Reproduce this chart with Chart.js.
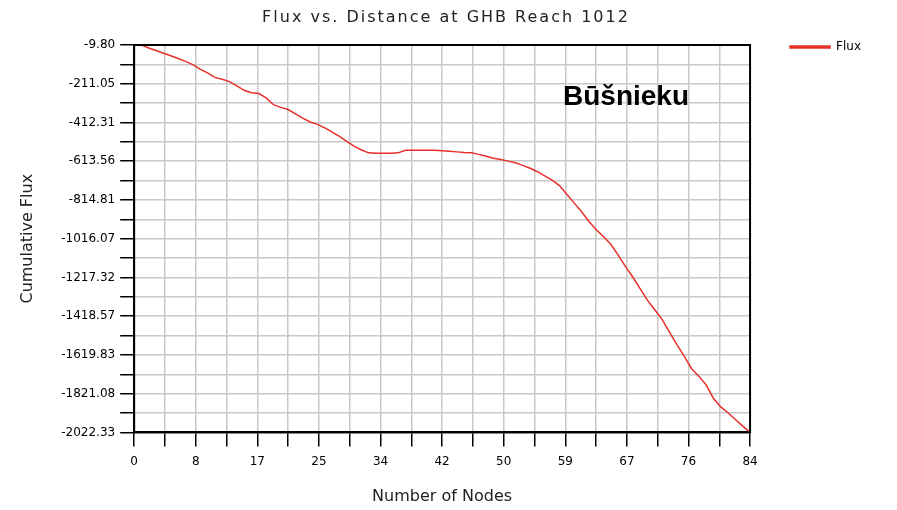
<!DOCTYPE html>
<html lang="en">
<head>
    <meta charset="UTF-8">
    <title>Flux vs. Distance at GHB Reach 1012</title>
    <style>
        body {
            margin: 0;
            background-color: #fff;
        }
        #wrap {
            width: 897px;
            height: 510px;
        }
    </style>
    <script src="https://cdn.jsdelivr.net/npm/chart.js"></script>
</head>
<body>
    <div id="wrap">
        <canvas id="flux-chart" width="897" height="510"></canvas>
    </div>

    <script>
        // data
        const nodes = [
            1, 2, 3, 4, 5, 6, 7, 8, 9, 10, 11, 12, 13, 14, 15, 16, 17, 18, 19, 20, 21,
            22, 23, 24, 25, 26, 27, 28, 29, 30, 31, 32, 33, 34, 35, 36, 37, 38, 39, 40, 41, 42,
            43, 44, 45, 46, 47, 48, 49, 50, 51, 52, 53, 54, 55, 56, 57, 58, 59, 60, 61, 62, 63,
            64, 65, 66, 67, 68, 69, 70, 71, 72, 73, 74, 75, 76, 77, 78, 79, 80, 81, 82, 83, 84
        ];
        const flux = [
            -9.8, -25, -38, -53, -66, -80, -95, -112, -135, -155, -178, -188, -200, -222, -245, -258, -262, -285, -320, -334, -345,
            -368, -390, -410, -422, -440, -462, -485, -510, -535, -555, -570, -572, -572, -572, -570, -557, -556, -556, -556, -557, -559,
            -562, -565, -568, -570, -578, -588, -598, -605, -613, -622, -635, -650, -668, -690, -712, -740, -785, -830, -875, -925, -968,
            -1005, -1045, -1100, -1160, -1215, -1275, -1335, -1385, -1435, -1500, -1565, -1625, -1690, -1730, -1775, -1845, -1890, -1920, -1955, -1990, -2022.33
        ];
        const xTickLabels = ['0', '8', '17', '25', '34', '42', '50', '59', '67', '76', '84'];
        const yTickLabels = ['-9.80', '-211.05', '-412.31', '-613.56', '-814.81', '-1016.07',
            '-1217.32', '-1418.57', '-1619.83', '-1821.08', '-2022.33'];

        const xMax = 84;
        const yTop = parseFloat(yTickLabels[0]);
        const yBottom = parseFloat(yTickLabels[yTickLabels.length - 1]);
        const tickFont = { family: "'DejaVu Sans'", size: 12 };

        // box around the plot, spaced-out title and the place name
        const frame = {
            id: 'frame',
            afterLayout(chart) {
                // legend sits level with the top of the plot
                chart.legend.top = chart.chartArea.top - 44;
            },
            afterDraw(chart) {
                const a = chart.chartArea;
                const ctx = chart.ctx;
                ctx.save();
                ctx.strokeStyle = '#000';
                ctx.lineWidth = 2;
                ctx.strokeRect(a.left, a.top, a.right - a.left, a.bottom - a.top);

                ctx.fillStyle = '#222';
                ctx.font = "16px 'DejaVu Sans'";
                ctx.letterSpacing = '2px';
                ctx.textAlign = 'center';
                ctx.textBaseline = 'middle';
                ctx.fillText('Flux vs. Distance at GHB Reach 1012', 446, 18);

                ctx.letterSpacing = '0px';
                ctx.textAlign = 'left';
                ctx.fillStyle = '#000';
                ctx.font = "bold 28px 'Liberation Sans', Arial";
                ctx.fillText('Būšnieku', 563, 97);
                ctx.restore();
            }
        };

        new Chart(document.getElementById('flux-chart'), {
            type: 'line',
            data: {
                labels: nodes,
                datasets: [{
                    label: 'Flux',
                    data: nodes.map((n, i) => ({ x: n, y: flux[i] })),
                    borderColor: '#e8302a',
                    backgroundColor: '#e8302a',
                    borderWidth: 1.5,
                    pointRadius: 0,
                    tension: 0
                }]
            },
            options: {
                responsive: false,
                animation: false,
                layout: { padding: { top: 45, left: 18, bottom: 0, right: 26 } },
                plugins: {
                    title: { display: false },
                    legend: {
                        position: 'right',
                        align: 'start',
                        labels: {
                            boxWidth: 40,
                            boxHeight: 2,
                            padding: 40,
                            color: '#000',
                            font: { family: "'DejaVu Sans'", size: 12 }
                        }
                    },
                    tooltip: { enabled: false }
                },
                scales: {
                    x: {
                        type: 'linear',
                        min: 0,
                        max: xMax,
                        afterBuildTicks(axis) {
                            const t = [];
                            for (let i = 0; i <= 20; i++) t.push({ value: xMax * i / 20 });
                            axis.ticks = t;
                        },
                        ticks: {
                            autoSkip: false,
                            maxRotation: 0,
                            color: '#000',
                            font: tickFont,
                            padding: 8,
                            callback: (v, i) => (i % 2 === 0 ? xTickLabels[i / 2] : '')
                        },
                        grid: { color: '#c8c8c8', lineWidth: 1.5, tickColor: '#000', tickLength: 14 },
                        border: { color: '#000', width: 2 },
                        title: {
                            display: true,
                            text: 'Number of Nodes',
                            color: '#222',
                            font: { family: "'DejaVu Sans'", size: 16 },
                            padding: { top: 10, bottom: 4 }
                        }
                    },
                    y: {
                        min: yBottom,
                        max: yTop,
                        afterBuildTicks(axis) {
                            const t = [];
                            for (let i = 0; i <= 20; i++) t.push({ value: yBottom + (yTop - yBottom) * i / 20 });
                            axis.ticks = t;
                        },
                        ticks: {
                            autoSkip: false,
                            color: '#000',
                            font: tickFont,
                            padding: 5,
                            callback: (v, i) => (i % 2 === 0 ? yTickLabels[yTickLabels.length - 1 - i / 2] : '')
                        },
                        grid: { color: '#c8c8c8', lineWidth: 1.5, tickColor: '#000', tickLength: 14 },
                        border: { color: '#000', width: 2 },
                        title: {
                            display: true,
                            text: 'Cumulative Flux',
                            color: '#222',
                            font: { family: "'DejaVu Sans'", size: 16 },
                            padding: { top: 0, bottom: 19 }
                        }
                    }
                }
            },
            plugins: [frame]
        });
    </script>
</body>
</html>
